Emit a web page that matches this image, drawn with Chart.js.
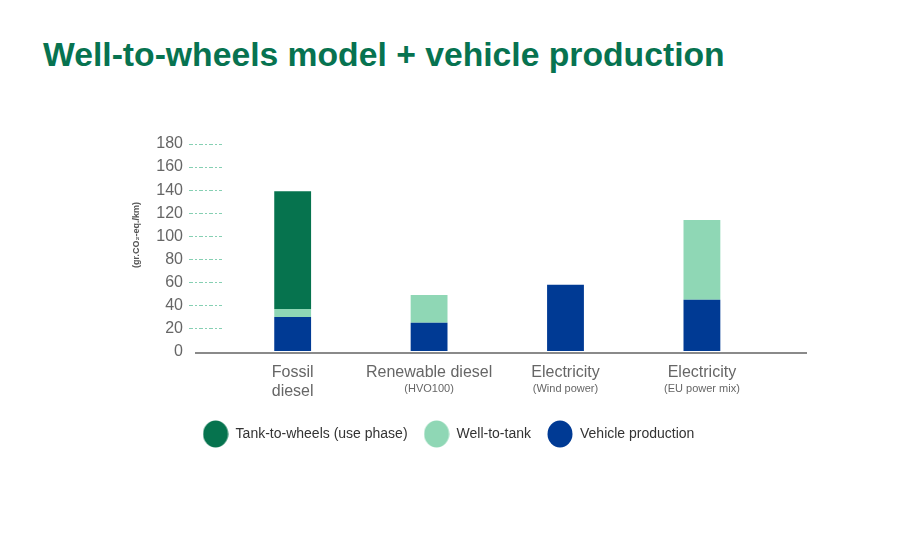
<!DOCTYPE html>
<html>
<head>
<meta charset="utf-8">
<script src="https://cdn.jsdelivr.net/npm/chart.js@4.4.0/dist/chart.umd.min.js"></script>
<style>
  html, body { margin: 0; padding: 0; background: #ffffff; }
  #wrap { position: relative; width: 903px; height: 555px; }
  h1 { position: absolute; left: 43px; top: 32px; margin: 0; font-family: "Liberation Sans", Arial, sans-serif;
       font-weight: bold; font-size: 33.7px; line-height: 44px; color: #077350; white-space: nowrap; }
  canvas { position: absolute; left: 0; top: 0; }
</style>
</head>
<body>
<div id="wrap">
  <h1>Well-to-wheels model + vehicle production</h1>
  <canvas id="c" width="903" height="555"></canvas>
</div>
<script>
// ---- data ----
const categories = ["Fossil diesel", "Renewable diesel (HVO100)", "Electricity (Wind power)", "Electricity (EU power mix)"];
const categoryLines = [["Fossil", "diesel"], "Renewable diesel", "Electricity", "Electricity"];
const categorySubLabels = ["", "(HVO100)", "(Wind power)", "(EU power mix)"];
const vehicleProduction = [30, 25, 58, 45];
const wellToTank = [7, 24, 0, 69];
const tankToWheels = [102, 0, 0, 0];
const yTicks = [0, 20, 40, 60, 80, 100, 120, 140, 160, 180];
const yTitle = "(gr.CO\u2082-eq./km)";

// ---- styles ----
const FONT = "'Liberation Sans', Arial, sans-serif";
const C_TTW = "#06734e", C_WTT = "#8fd7b5", C_VP = "#003a94";
const AXIS = "#8a8a8a";

function dot(color) {
  const c = document.createElement('canvas');
  c.width = 26; c.height = 28;
  const g = c.getContext('2d');
  g.fillStyle = color;
  g.beginPath(); g.ellipse(13, 14, 12.5, 13.5, 0, 0, Math.PI * 2); g.fill();
  return c;
}

const extras = {
  id: 'extras',
  afterDraw(chart) {
    const { ctx, chartArea, scales: { x } } = chart;
    ctx.save();
    // x axis line, extended left under the tick marks
    ctx.strokeStyle = AXIS; ctx.lineWidth = 2;
    const yy = Math.round(chartArea.bottom) + 1;
    ctx.beginPath(); ctx.moveTo(chartArea.left - 27, yy); ctx.lineTo(chartArea.right + 1, yy); ctx.stroke();
    // category sub-labels
    ctx.fillStyle = "#666"; ctx.font = "11px " + FONT; ctx.textAlign = "center"; ctx.textBaseline = "middle";
    categorySubLabels.forEach((s, i) => { if (s) ctx.fillText(s, x.getPixelForValue(i), chartArea.bottom + 37); });
    // y axis title
    ctx.translate(137, chartArea.top + 91);
    ctx.rotate(-Math.PI / 2);
    ctx.fillStyle = "#555"; ctx.font = "bold 9px " + FONT;
    ctx.fillText(yTitle, 0, 0);
    ctx.restore();
  }
};

new Chart(document.getElementById('c'), {
  type: 'bar',
  data: {
    labels: categories.map((_, i) => i),
    datasets: [
      { label: "Vehicle production", data: vehicleProduction, backgroundColor: C_VP },
      { label: "Well-to-tank", data: wellToTank, backgroundColor: C_WTT },
      { label: "Tank-to-wheels (use phase)", data: tankToWheels, backgroundColor: C_TTW }
    ]
  },
  options: {
    responsive: false,
    animation: false,
    layout: { padding: { top: 144, left: 0, right: 6, bottom: 104 } },
    datasets: { bar: { barPercentage: 0.27, categoryPercentage: 1, borderWidth: 0 } },
    scales: {
      x: {
        type: 'linear', stacked: true, offset: false, min: -0.518, max: 3.763,
        afterBuildTicks: (a) => { a.ticks = categories.map((_, i) => ({ value: i })); },
        afterFit: (s) => { s.height += 7; },
        grid: { display: false },
        border: { display: false },
        ticks: { callback: (v) => categoryLines[v], color: "#666", font: { family: FONT, size: 16 }, padding: 3, maxRotation: 0, autoSkip: false }
      },
      y: {
        stacked: true, min: 0, max: 180,
        afterBuildTicks: (a) => { a.ticks = yTicks.map(v => ({ value: v })); },
        afterFit: (s) => { s.width = 222; },
        border: { display: false },
        grid: { drawOnChartArea: false, drawTicks: true, tickLength: 33, tickWidth: 1,
                tickColor: (ctx) => ctx.tick && ctx.tick.value === 0 ? 'rgba(0,0,0,0)' : '#86d0b3',
                tickBorderDash: [4, 2, 2, 2] },
        ticks: { color: "#666", font: { family: FONT, size: 16 }, padding: 6 }
      },
      yr: {
        position: 'right', display: true,
        afterFit: (s) => { s.width = 91; },
        grid: { display: false }, border: { display: false }, ticks: { display: false }
      }
    },
    plugins: {
      title: { display: false },
      tooltip: { enabled: false },
      legend: {
        position: 'bottom', reverse: true,
        labels: {
          usePointStyle: true, pointStyleWidth: 26, padding: 16, color: "#333",
          font: { family: FONT, size: 14 },
          generateLabels: (chart) => Chart.defaults.plugins.legend.labels.generateLabels(chart)
            .map(it => Object.assign(it, { pointStyle: dot(it.fillStyle) }))
        }
      }
    }
  },
  plugins: [extras]
});
</script>
</body>
</html>
